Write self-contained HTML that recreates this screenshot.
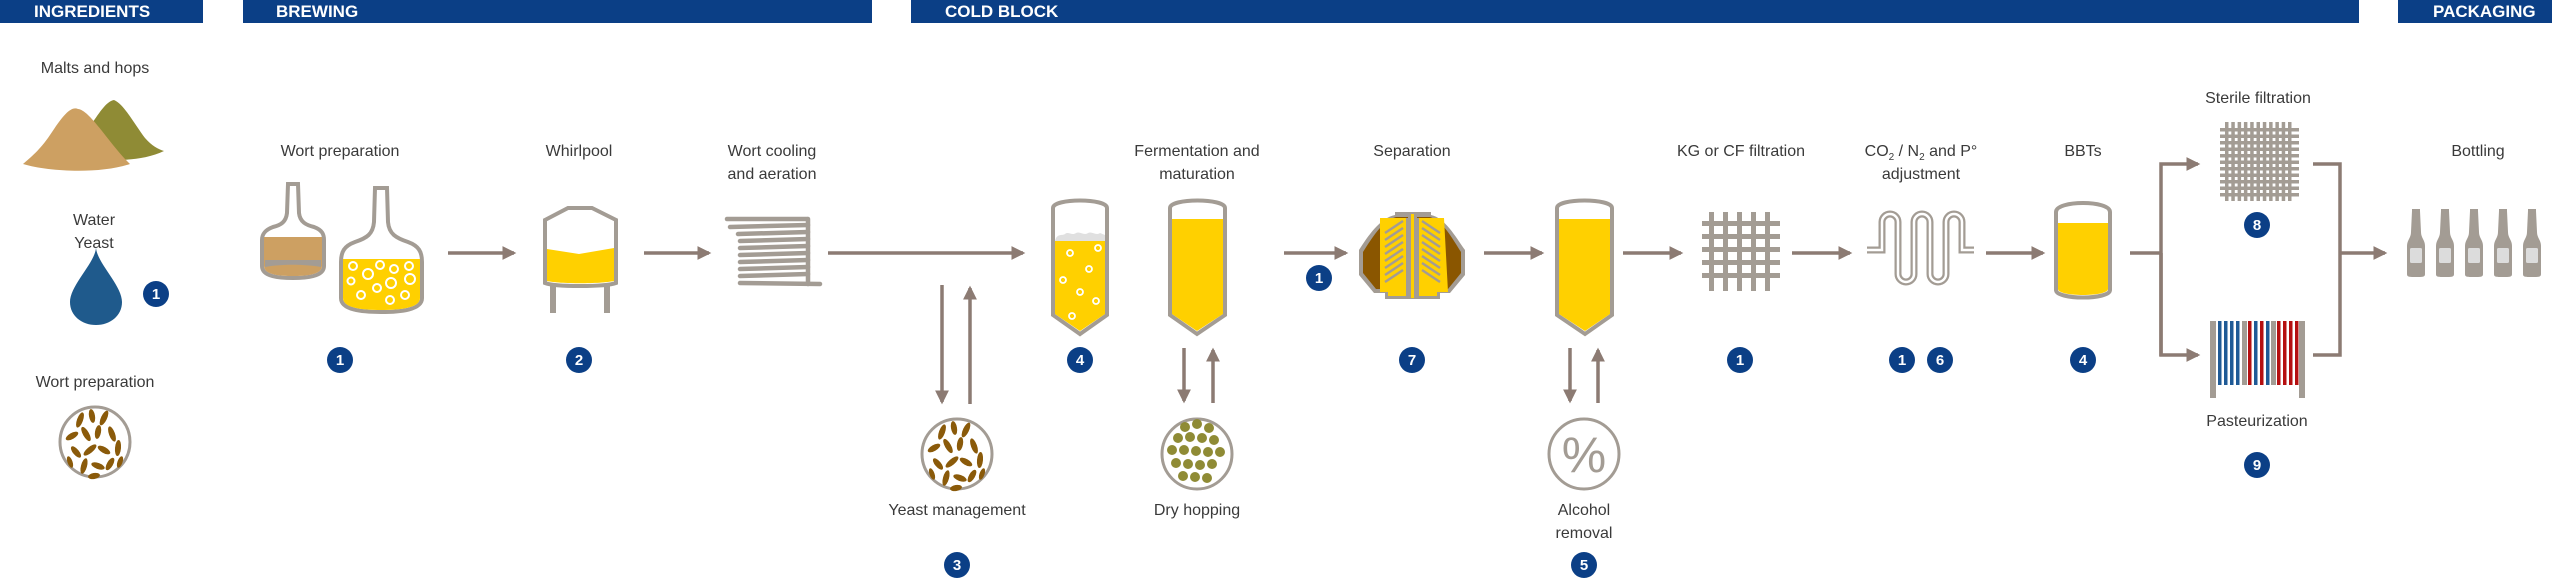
<!DOCTYPE html>
<html><head><meta charset="utf-8"><style>
html,body{margin:0;padding:0;background:#fff;}
svg{display:block;}
text{font-family:"Liberation Sans",Arial,sans-serif;}
.l{font-size:16px;fill:#3a3a3a;text-anchor:middle;}
.h{font-size:17px;font-weight:bold;fill:#fff;}
.bt{font-size:15px;font-weight:bold;fill:#fff;text-anchor:middle;}
.ar{stroke:#8c7b73;stroke-width:3.5;fill:none;}
.g{fill:#a39c94;}
</style></head><body>
<svg width="2552" height="580" viewBox="0 0 2552 580" xmlns="http://www.w3.org/2000/svg">
<defs>
<marker id="a" viewBox="0 0 12 12" markerWidth="14" markerHeight="14" refX="10" refY="6" orient="auto" markerUnits="userSpaceOnUse"><path d="M0,0 L12,6 L0,12 Z" fill="#8c7b73"/></marker>
</defs>

<!-- headers -->
<rect x="0" y="0" width="203" height="23" fill="#0b3f86"/>
<rect x="243" y="0" width="629" height="23" fill="#0b3f86"/>
<rect x="911" y="0" width="1448" height="23" fill="#0b3f86"/>
<rect x="2398" y="0" width="154" height="23" fill="#0b3f86"/>
<text class="h" x="34" y="17">INGREDIENTS</text>
<text class="h" x="276" y="17">BREWING</text>
<text class="h" x="945" y="17">COLD BLOCK</text>
<text class="h" x="2433" y="17">PACKAGING</text>

<!-- ingredients -->
<text class="l" x="95" y="73">Malts and hops</text>
<path d="M90,126 C98,115 106,101 114,100 C124,104 135,125 145,138 C152,146 158,149 164,151 C150,158 130,160 118,160 Z" fill="#8f8b35"/>
<path d="M78,109 C70,105 60,120 50,135 C40,150 30,158 23,164 C50,172 100,174 130,164 C110,145 90,110 78,109 Z" fill="#cda062"/>
<text class="l" x="94" y="225">Water</text>
<text class="l" x="94" y="248">Yeast</text>
<path d="M96,247 C96,262 70,285 70,302 C70,316 82,325 96,325 C110,325 122,316 122,302 C122,285 96,262 96,247 Z" fill="#1f5a8c"/>
<circle cx="156" cy="294" r="13" fill="#0b3f86"/><text class="bt" x="156" y="299">1</text>
<text class="l" x="95" y="387">Wort preparation</text>
<g id="yeastc">
<circle cx="95" cy="442" r="35" fill="#fff" stroke="#a39c94" stroke-width="3"/>
<g fill="#8a5a0a">
<ellipse cx="80" cy="420" rx="3" ry="8" transform="rotate(20 80 420)"/>
<ellipse cx="92" cy="416" rx="3" ry="7" transform="rotate(-10 92 416)"/>
<ellipse cx="104" cy="418" rx="3" ry="8" transform="rotate(25 104 418)"/>
<ellipse cx="72" cy="436" rx="3" ry="7" transform="rotate(60 72 436)"/>
<ellipse cx="86" cy="434" rx="3" ry="8" transform="rotate(-30 86 434)"/>
<ellipse cx="98" cy="432" rx="3" ry="7" transform="rotate(10 98 432)"/>
<ellipse cx="112" cy="434" rx="3" ry="8" transform="rotate(-20 112 434)"/>
<ellipse cx="118" cy="448" rx="3" ry="8" transform="rotate(5 118 448)"/>
<ellipse cx="76" cy="452" rx="3" ry="7" transform="rotate(-40 76 452)"/>
<ellipse cx="90" cy="450" rx="3" ry="8" transform="rotate(50 90 450)"/>
<ellipse cx="104" cy="450" rx="3" ry="7" transform="rotate(-60 104 450)"/>
<ellipse cx="84" cy="466" rx="3" ry="8" transform="rotate(15 84 466)"/>
<ellipse cx="98" cy="466" rx="3" ry="7" transform="rotate(-70 98 466)"/>
<ellipse cx="110" cy="464" rx="3" ry="7" transform="rotate(30 110 464)"/>
<ellipse cx="94" cy="476" rx="3" ry="6" transform="rotate(80 94 476)"/>
<ellipse cx="70" cy="462" rx="2.5" ry="6" transform="rotate(-20 70 462)"/>
<ellipse cx="120" cy="462" rx="2.5" ry="6" transform="rotate(20 120 462)"/>
</g></g>

<!-- brewing: wort preparation -->
<text class="l" x="340" y="156">Wort preparation</text>
<path d="M288,184 L298,184 L299,213 C300,222 306,225 314,227 C322,230 324,234 324,240 L324,266 C324,277 305,278 293,278 C280,278 262,277 262,266 L262,240 C262,234 265,230 273,227 C281,225 286,222 287,213 Z" fill="#fff" stroke="#a39c94" stroke-width="4"/>
<path d="M264,237 L322,237 L322,266 C322,275 305,276 293,276 C280,276 264,275 264,266 Z" fill="#cda062"/>
<path d="M265,260 L321,260 L321,267 C305,264 280,264 265,267 Z" fill="#a39c94"/>
<path d="M375,188 L387,188 L388,222 C389,234 396,238 408,242 C419,246 422,252 422,262 L422,298 C422,310 400,312 381,312 C362,312 341,310 341,298 L341,262 C341,252 344,246 355,242 C367,238 373,234 374,222 Z" fill="#fff" stroke="#a39c94" stroke-width="4"/>
<path d="M343,259 L420,259 L420,298 C420,308 400,310 381,310 C362,310 343,308 343,298 Z" fill="#ffd000"/>
<g fill="none" stroke="#fff" stroke-width="2">
<circle cx="353" cy="266" r="4"/><circle cx="368" cy="274" r="5"/><circle cx="380" cy="265" r="4"/><circle cx="394" cy="269" r="4"/><circle cx="409" cy="266" r="4"/>
<circle cx="351" cy="281" r="3.5"/><circle cx="377" cy="288" r="4"/><circle cx="391" cy="283" r="5"/><circle cx="410" cy="279" r="5"/>
<circle cx="361" cy="295" r="4"/><circle cx="390" cy="300" r="4"/><circle cx="405" cy="295" r="4"/>
</g>
<circle cx="340" cy="360" r="13" fill="#0b3f86"/><text class="bt" x="340" y="365">1</text>
<line class="ar" x1="448" y1="253" x2="514" y2="253" marker-end="url(#a)"/>

<!-- whirlpool -->
<text class="l" x="579" y="156">Whirlpool</text>
<rect x="550" y="283" width="6" height="30" class="g"/><rect x="604" y="283" width="6" height="30" class="g"/>
<path d="M545,220 L568,208 L592,208 L616,220 L616,283 C605,287 555,287 545,283 Z" fill="#fff" stroke="#a39c94" stroke-width="4"/>
<path d="M547,249 L579,254 L614,248 L614,281 C600,284 560,284 547,281 Z" fill="#ffd000"/>
<circle cx="579" cy="360" r="13" fill="#0b3f86"/><text class="bt" x="579" y="365">2</text>
<line class="ar" x1="644" y1="253" x2="709" y2="253" marker-end="url(#a)"/>

<!-- wort cooling -->
<text class="l" x="772" y="156">Wort cooling</text>
<text class="l" x="772" y="179">and aeration</text>
<g stroke="#a39c94" stroke-width="4.5" stroke-linecap="round" fill="none">
<line x1="727" y1="219" x2="807" y2="219"/>
<line x1="730" y1="227" x2="808" y2="225"/>
<line x1="738" y1="234" x2="808" y2="232"/>
<line x1="740" y1="241" x2="808" y2="239"/>
<line x1="740" y1="248" x2="808" y2="246"/>
<line x1="740" y1="255" x2="808" y2="253"/>
<line x1="740" y1="262" x2="808" y2="260"/>
<line x1="740" y1="269" x2="808" y2="267"/>
<line x1="740" y1="276" x2="808" y2="274"/>
<line x1="740" y1="283" x2="820" y2="284"/>
<line x1="808" y1="219" x2="808" y2="284"/>
</g>
<line class="ar" x1="828" y1="253" x2="1023" y2="253" marker-end="url(#a)"/>

<!-- yeast management -->
<line class="ar" x1="942" y1="285" x2="942" y2="402" marker-end="url(#a)"/>
<line class="ar" x1="970" y1="404" x2="970" y2="288" marker-end="url(#a)"/>
<use href="#yeastc" transform="translate(862,12)"/>
<text class="l" x="957" y="515">Yeast management</text>
<circle cx="957" cy="565" r="13" fill="#0b3f86"/><text class="bt" x="957" y="570">3</text>

<!-- fermenter 4 -->
<path d="M1053,208 C1053,198 1107,198 1107,208 L1107,315 L1080,334 L1053,315 Z" fill="#fff" stroke="#a39c94" stroke-width="4"/>
<path d="M1055,241 L1105,241 L1105,314 L1080,331 L1055,314 Z" fill="#ffd000"/>
<path d="M1055,241 C1057,233 1062,236 1065,234 C1068,231 1072,236 1076,233 C1080,231 1084,236 1088,233 C1092,231 1096,236 1100,233 L1105,235 L1105,241 Z" fill="#e0e0e0"/>
<g fill="none" stroke="#fff" stroke-width="1.8">
<circle cx="1070" cy="253" r="3"/><circle cx="1098" cy="248" r="3"/><circle cx="1089" cy="269" r="3"/><circle cx="1063" cy="280" r="3"/><circle cx="1080" cy="292" r="3"/><circle cx="1096" cy="301" r="3"/><circle cx="1072" cy="316" r="3"/>
</g>
<circle cx="1080" cy="360" r="13" fill="#0b3f86"/><text class="bt" x="1080" y="365">4</text>

<!-- fermentation and maturation -->
<text class="l" x="1197" y="156">Fermentation and</text>
<text class="l" x="1197" y="179">maturation</text>
<path d="M1170,208 C1170,198 1225,198 1225,208 L1225,315 L1197,334 L1170,315 Z" fill="#fff" stroke="#a39c94" stroke-width="4"/>
<path d="M1172,219 L1223,219 L1223,314 L1197,331 L1172,314 Z" fill="#ffd000"/>
<line class="ar" x1="1184" y1="348" x2="1184" y2="401" marker-end="url(#a)"/>
<line class="ar" x1="1213" y1="403" x2="1213" y2="350" marker-end="url(#a)"/>
<circle cx="1197" cy="454" r="35" fill="#fff" stroke="#a39c94" stroke-width="3"/>
<g fill="#8f8b35">
<circle cx="1185" cy="427" r="5"/><circle cx="1197" cy="424" r="5"/><circle cx="1209" cy="428" r="5"/>
<circle cx="1178" cy="438" r="5"/><circle cx="1190" cy="437" r="5"/><circle cx="1202" cy="438" r="5"/><circle cx="1214" cy="440" r="5"/>
<circle cx="1172" cy="450" r="5"/><circle cx="1184" cy="450" r="5"/><circle cx="1196" cy="451" r="5"/><circle cx="1208" cy="452" r="5"/><circle cx="1220" cy="452" r="5"/>
<circle cx="1176" cy="463" r="5"/><circle cx="1188" cy="464" r="5"/><circle cx="1200" cy="465" r="5"/><circle cx="1212" cy="464" r="5"/>
<circle cx="1183" cy="476" r="5"/><circle cx="1195" cy="477" r="5"/><circle cx="1207" cy="478" r="5"/>
</g>
<text class="l" x="1197" y="515">Dry hopping</text>

<!-- separation -->
<line class="ar" x1="1284" y1="253" x2="1346" y2="253" marker-end="url(#a)"/>
<circle cx="1319" cy="278" r="13" fill="#0b3f86"/><text class="bt" x="1319" y="283">1</text>
<text class="l" x="1412" y="156">Separation</text>
<path d="M1395,212 L1431,212 L1431,215 C1445,218 1455,236 1465,250 L1465,275 L1450,293 L1440,293 L1440,299 L1385,299 L1385,293 L1374,293 L1359,275 L1359,250 C1368,236 1380,218 1395,215 Z" fill="#a39c94"/>
<path d="M1396,217 L1430,217 C1443,221 1452,238 1461,252 L1461,273 L1448,289 L1376,289 L1363,273 L1363,252 C1372,238 1382,221 1396,217 Z" fill="#8a5600"/>
<path d="M1380,218 L1444,218 L1448,292 L1437,292 L1437,296 L1388,296 L1388,292 L1380,292 Z" fill="#ffd000"/>
<rect x="1408" y="214" width="9" height="84" fill="#a39c94"/>
<rect x="1411" y="214" width="3" height="84" fill="#ffd000"/>
<rect x="1406" y="218" width="2" height="78" fill="#a39c94"/><rect x="1417" y="218" width="2" height="78" fill="#a39c94"/>
<g stroke="#a39c94" stroke-width="2.5">
<line x1="1385" y1="233" x2="1403" y2="221"/><line x1="1385" y1="240" x2="1403" y2="228"/><line x1="1385" y1="247" x2="1403" y2="235"/><line x1="1385" y1="254" x2="1403" y2="242"/><line x1="1385" y1="261" x2="1403" y2="249"/><line x1="1385" y1="268" x2="1403" y2="256"/><line x1="1385" y1="275" x2="1403" y2="263"/><line x1="1385" y1="282" x2="1403" y2="270"/>
<line x1="1422" y1="221" x2="1440" y2="233"/><line x1="1422" y1="228" x2="1440" y2="240"/><line x1="1422" y1="235" x2="1440" y2="247"/><line x1="1422" y1="242" x2="1440" y2="254"/><line x1="1422" y1="249" x2="1440" y2="261"/><line x1="1422" y1="256" x2="1440" y2="268"/><line x1="1422" y1="263" x2="1440" y2="275"/><line x1="1422" y1="270" x2="1440" y2="282"/>
</g>
<circle cx="1412" cy="360" r="13" fill="#0b3f86"/><text class="bt" x="1412" y="365">7</text>
<line class="ar" x1="1484" y1="253" x2="1542" y2="253" marker-end="url(#a)"/>

<!-- alcohol removal tank -->
<path d="M1557,208 C1557,198 1612,198 1612,208 L1612,315 L1585,334 L1557,315 Z" fill="#fff" stroke="#a39c94" stroke-width="4"/>
<path d="M1559,219 L1610,219 L1610,314 L1585,331 L1559,314 Z" fill="#ffd000"/>
<line class="ar" x1="1623" y1="253" x2="1681" y2="253" marker-end="url(#a)"/>
<line class="ar" x1="1570" y1="348" x2="1570" y2="401" marker-end="url(#a)"/>
<line class="ar" x1="1598" y1="403" x2="1598" y2="350" marker-end="url(#a)"/>
<circle cx="1584" cy="454" r="35" fill="#fff" stroke="#a39c94" stroke-width="3"/>
<text x="1584" y="472" text-anchor="middle" font-size="50" fill="#a39c94" font-family="Liberation Sans, sans-serif">%</text>
<text class="l" x="1584" y="515">Alcohol</text>
<text class="l" x="1584" y="538">removal</text>
<circle cx="1584" cy="565" r="13" fill="#0b3f86"/><text class="bt" x="1584" y="570">5</text>

<!-- KG filtration -->
<text class="l" x="1741" y="156">KG or CF filtration</text>
<g class="g">
<rect x="1709" y="212" width="5" height="79"/><rect x="1723" y="212" width="5" height="79"/><rect x="1737" y="212" width="5" height="79"/><rect x="1751" y="212" width="5" height="79"/><rect x="1765" y="212" width="5" height="79"/>
<rect x="1702" y="221" width="78" height="5"/><rect x="1702" y="234" width="78" height="5"/><rect x="1702" y="247" width="78" height="5"/><rect x="1702" y="260" width="78" height="5"/><rect x="1702" y="273" width="78" height="5"/>
</g>
<circle cx="1740" cy="360" r="13" fill="#0b3f86"/><text class="bt" x="1740" y="365">1</text>
<line class="ar" x1="1792" y1="253" x2="1850" y2="253" marker-end="url(#a)"/>

<!-- CO2 adjustment -->
<text class="l" x="1921" y="156">CO<tspan font-size="10" dy="4">2</tspan><tspan dy="-4"> / N</tspan><tspan font-size="10" dy="4">2</tspan><tspan dy="-4"> and P°</tspan></text>
<text class="l" x="1921" y="179">adjustment</text>
<path d="M1867,250 H1882 V222 a8,8 0 0 1 16,0 V274 a8,8 0 0 0 16,0 V222 a8,8 0 0 1 16,0 V274 a8,8 0 0 0 16,0 V222 a8,8 0 0 1 16,0 V250 H1974" fill="none" stroke="#a39c94" stroke-width="7"/>
<path d="M1867,250 H1882 V222 a8,8 0 0 1 16,0 V274 a8,8 0 0 0 16,0 V222 a8,8 0 0 1 16,0 V274 a8,8 0 0 0 16,0 V222 a8,8 0 0 1 16,0 V250 H1974" fill="none" stroke="#fff" stroke-width="2.5"/>
<circle cx="1902" cy="360" r="13" fill="#0b3f86"/><text class="bt" x="1902" y="365">1</text>
<circle cx="1940" cy="360" r="13" fill="#0b3f86"/><text class="bt" x="1940" y="365">6</text>
<line class="ar" x1="1986" y1="253" x2="2043" y2="253" marker-end="url(#a)"/>

<!-- BBT -->
<text class="l" x="2083" y="156">BBTs</text>
<path d="M2056,212 C2056,200 2110,200 2110,212 L2110,290 C2110,300 2056,300 2056,290 Z" fill="#fff" stroke="#a39c94" stroke-width="4"/>
<path d="M2058,223 L2108,223 L2108,289 C2108,297 2058,297 2058,289 Z" fill="#ffd000"/>
<circle cx="2083" cy="360" r="13" fill="#0b3f86"/><text class="bt" x="2083" y="365">4</text>

<!-- split -->
<polyline class="ar" points="2130,253 2161,253"/>
<polyline class="ar" points="2161,356 2161,164 2198,164" marker-end="url(#a)"/>
<polyline class="ar" points="2161,253 2161,355 2198,355" marker-end="url(#a)"/>

<!-- sterile filtration -->
<text class="l" x="2258" y="103">Sterile filtration</text>
<g class="g">
<rect x="2225" y="122" width="3.5" height="79"/><rect x="2231.3" y="122" width="3.5" height="79"/><rect x="2237.6" y="122" width="3.5" height="79"/><rect x="2243.9" y="122" width="3.5" height="79"/><rect x="2250.2" y="122" width="3.5" height="79"/><rect x="2256.5" y="122" width="3.5" height="79"/><rect x="2262.8" y="122" width="3.5" height="79"/><rect x="2269.1" y="122" width="3.5" height="79"/><rect x="2275.4" y="122" width="3.5" height="79"/><rect x="2281.7" y="122" width="3.5" height="79"/><rect x="2288" y="122" width="3.5" height="79"/>
<rect x="2220" y="128" width="79" height="3.5"/><rect x="2220" y="134.5" width="79" height="3.5"/><rect x="2220" y="141" width="79" height="3.5"/><rect x="2220" y="147.5" width="79" height="3.5"/><rect x="2220" y="154" width="79" height="3.5"/><rect x="2220" y="160.5" width="79" height="3.5"/><rect x="2220" y="167" width="79" height="3.5"/><rect x="2220" y="173.5" width="79" height="3.5"/><rect x="2220" y="180" width="79" height="3.5"/><rect x="2220" y="186.5" width="79" height="3.5"/><rect x="2220" y="193" width="79" height="3.5"/>
</g>
<circle cx="2257" cy="225" r="13" fill="#0b3f86"/><text class="bt" x="2257" y="230">8</text>

<!-- pasteurization -->
<rect x="2210" y="321" width="6" height="77" fill="#a39c94"/>
<rect x="2299" y="321" width="6" height="77" fill="#a39c94"/>
<g>
<rect x="2218" y="321" width="3.5" height="64" fill="#1f5a96"/>
<rect x="2224" y="321" width="3.5" height="64" fill="#1f5a96"/>
<rect x="2230" y="321" width="3.5" height="64" fill="#1f5a96"/>
<rect x="2236" y="321" width="3.5" height="64" fill="#1f5a96"/>
<rect x="2242" y="321" width="5" height="64" fill="#a39c94"/>
<rect x="2248" y="321" width="3.5" height="64" fill="#b50f10"/>
<rect x="2254" y="321" width="3.5" height="64" fill="#1f5a96"/>
<rect x="2260" y="321" width="3.5" height="64" fill="#b50f10"/>
<rect x="2266" y="321" width="3.5" height="64" fill="#1f5a96"/>
<rect x="2271" y="321" width="5" height="64" fill="#a39c94"/>
<rect x="2277" y="321" width="3.5" height="64" fill="#b50f10"/>
<rect x="2283" y="321" width="3.5" height="64" fill="#b50f10"/>
<rect x="2289" y="321" width="3.5" height="64" fill="#b50f10"/>
<rect x="2295" y="321" width="3.5" height="64" fill="#b50f10"/>
</g>
<text class="l" x="2257" y="426">Pasteurization</text>
<circle cx="2257" cy="465" r="13" fill="#0b3f86"/><text class="bt" x="2257" y="470">9</text>

<!-- merge -->
<polyline class="ar" points="2313,164 2340,164 2340,355 2313,355"/>
<line class="ar" x1="2340" y1="253" x2="2385" y2="253" marker-end="url(#a)"/>

<!-- bottling -->
<text class="l" x="2478" y="156">Bottling</text>
<g id="bot">
<path d="M2412,209 L2420,209 L2420,211 L2421,232 C2421,238 2425,240 2425,246 L2425,274 C2425,277 2423,277 2416,277 C2409,277 2407,277 2407,274 L2407,246 C2407,240 2411,238 2411,232 L2412,211 Z" fill="#a39c94"/>
<rect x="2410" y="248" width="12" height="15" rx="1.5" fill="#dcdcdc"/>
</g>
<use href="#bot" transform="translate(29,0)"/>
<use href="#bot" transform="translate(58,0)"/>
<use href="#bot" transform="translate(87,0)"/>
<use href="#bot" transform="translate(116,0)"/>
</svg>
</body></html>
